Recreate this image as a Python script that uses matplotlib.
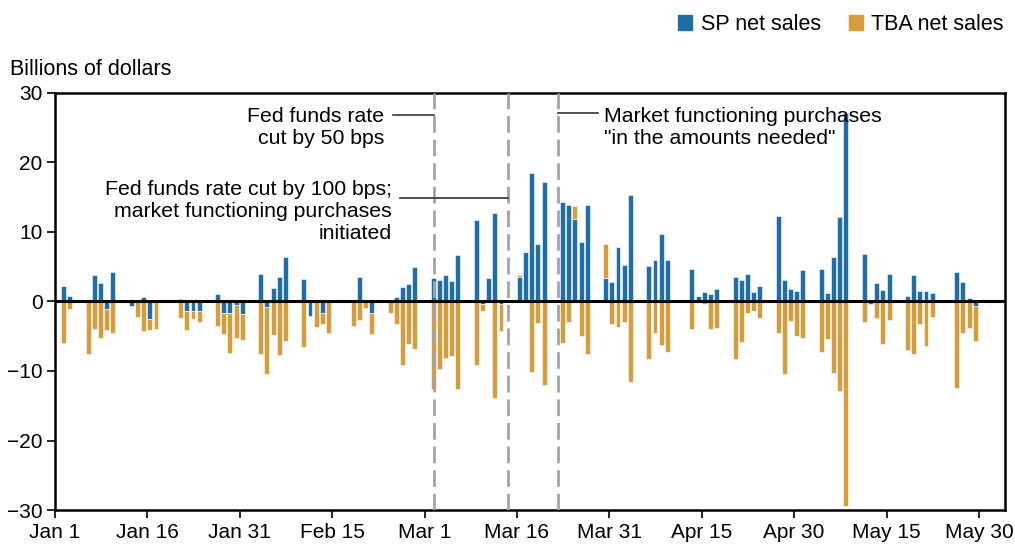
import pandas as pd
import numpy as np
import matplotlib.pyplot as plt
from matplotlib.patches import Patch

plt.rcParams['font.family'] = ['Liberation Sans', 'DejaVu Sans']
plt.rcParams['font.size'] = 15

# business days Jan 2 - May 29, 2020 (market holidays removed)
holidays = ['2020-01-20', '2020-02-17', '2020-04-10', '2020-05-25']
dates = pd.bdate_range('2020-01-02', '2020-05-29')
dates = dates[~dates.isin(pd.to_datetime(holidays))]

# SP net sales, billions of dollars
sp_net = [
    2.3, 0.8, 0, 3.8, 2.6, -1.15, 4.3, -0.6, 0, 0.6, -2.45, 0, 0.35, -1.35, -1.35, -1.35,
    1.1, -1.7, -1.7, -0.5, -1.8,
    4.0, -0.8, 2.0, 3.55, 6.35, 3.3, -2.1, 0, -1.6, 0, 0, 3.55, 0, -1.7, 0, 0.6, 2.15, 2.55, 5.0,
    3.4, 3.1, 3.85, 2.9, 6.7, 11.7, -0.4, 3.4, 12.7, -0.3, 3.5, 7.1, 18.5, 8.3, 17.2,
    14.3, 13.9, 11.8, 8.5, 13.9, 3.45, 2.75,
    7.8, 5.3, 15.3, 5.1, 5.9, 9.75, 5.9, 4.7, 0.77, 1.3, 1.05, 1.8, 3.5, 3.1, 4.0, 1.3, 2.25,
    12.25, 3.1, 1.8, 1.55,
    4.55, 4.65, 1.2, 6.35, 12.2, 27.1, 6.8, -0.4, 2.65, 1.7, 4.0, 0.77, 3.8, 1.55, 1.55, 1.2,
    4.2, 2.75, 0.5, -0.6,
]
# TBA net sales, billions of dollars
tba_net = [
    -6.0, -1.15, -7.5, -4.0, -5.3, -3.0, -4.5, 0, -2.3, -4.2, -1.6, -4.0, -2.35, -2.7, -1.1, -1.6,
    -3.55, -3.0, -5.7, -4.8, -3.75,
    -7.5, -9.6, -4.75, -7.65, -5.7, -6.5, 0, -3.65, -1.6, -4.5, -3.55, -2.65, -0.9, -3.0, -1.7,
    -3.2, -9.2, -6.15, -6.9,
    -12.6, -9.7, -8.2, -7.9, -12.6, -9.15, -0.9, 0, -13.9, -4.0, 0.25, 0, -10.2, -3.1, -12.0,
    -6.0, -3.0, 2.0, -4.9, -7.5, 4.85, -3.3,
    -3.65, -3.0, -11.6, -8.3, -4.5, -6.3, -7.3, -4.0, 0, -0.3, -3.9, -3.8, -8.3, -5.8, -1.7, -1.3,
    -2.4, -4.5, -10.5, -2.75, -5.0,
    -5.25, -7.3, -5.4, -10.25, -12.9, -29.4, -3.0, 0, -2.35, -6.1, -2.65, -7.0, -7.6, -3.3, -6.45,
    -2.2, -12.45, -4.6, -3.85, -5.05,
]

events = pd.to_datetime(['2020-03-03', '2020-03-15', '2020-03-23'])
tick_dates = pd.date_range('2020-01-01', periods=11, freq='15D')

blue = '#1f6ea8'
gold = '#d79c3b'

start = pd.Timestamp('2020-01-01')
x = np.array((dates - start).days, dtype=float)
sp = np.array(sp_net)
tba = np.array(tba_net)
tba_bottom = np.where(tba >= 0, np.maximum(sp, 0), np.minimum(sp, 0))

fig = plt.figure(figsize=(10.15, 5.45), dpi=100)
ax = fig.add_axes([0.0542, 0.0642, 0.9358, 0.7652])

ax.bar(x, sp, width=0.8, align='edge', color=blue, edgecolor='white', linewidth=0.4, zorder=2)
ax.bar(x, tba, width=0.8, align='edge', bottom=tba_bottom, color=gold, edgecolor='white',
       linewidth=0.4, zorder=2)
ax.axhline(0, color='black', lw=2.2, zorder=4)

ev = np.array((events - start).days, dtype=float) - 0.4
for e in ev:
    ax.axvline(e, color='#a3a3ab', lw=2, dashes=(6, 2.5), zorder=3)

# annotations with leader lines
ax.text(53.4, 25.1, 'Fed funds rate\ncut by 50 bps', ha='right', va='center', fontsize=15.3)
ax.plot([54.9, ev[0]], [26.8, 26.8], color='#333333', lw=1.2, zorder=3)
ax.text(54.7, 12.9, 'Fed funds rate cut by 100 bps;\nmarket functioning purchases\ninitiated',
        ha='right', va='center', fontsize=15.3)
ax.plot([56.0, ev[1]], [14.9, 14.9], color='#333333', lw=1.2, zorder=3)
ax.text(89.1, 25.1, 'Market functioning purchases\n"in the amounts needed"', ha='left', va='center',
        fontsize=15.3)
ax.plot([ev[2], 88.1], [27.1, 27.1], color='#333333', lw=1.2, zorder=3)

ax.set_xlim(0, 154.2)
ax.set_ylim(-30, 30)
ax.set_xticks((tick_dates - start).days)
ax.set_xticklabels([f'{d:%b} {d.day}' for d in tick_dates])
ax.set_yticks(range(-30, 31, 10))
ax.tick_params(direction='out', length=6, width=1.2, pad=3)
for s in ax.spines.values():
    s.set_linewidth(1.8)

fig.text(0.01, 0.872, 'Billions of dollars', ha='left', va='center', fontsize=15.5)
handles = [Patch(color=blue, label='SP net sales'), Patch(color=gold, label='TBA net sales')]
fig.legend(handles=handles, ncol=2, loc='upper right', bbox_to_anchor=(1.008, 1.01), frameon=False,
           fontsize=15.5, handlelength=0.65, handleheight=0.65, handletextpad=0.4,
           columnspacing=1.3)

fig.savefig('out.png', dpi=100)
